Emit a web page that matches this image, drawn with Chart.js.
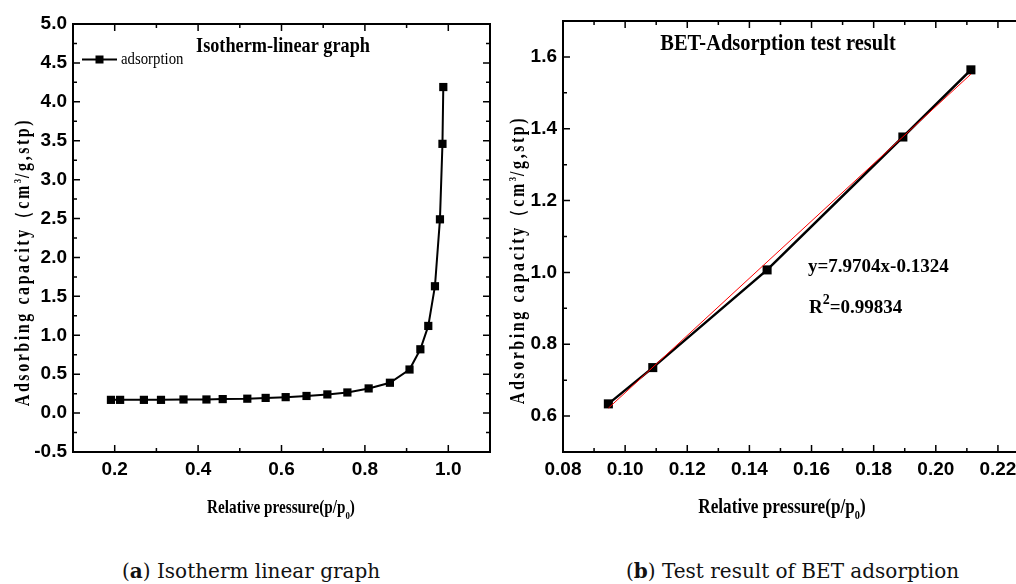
<!DOCTYPE html>
<html>
<head>
<meta charset="utf-8">
<script src="https://cdn.jsdelivr.net/npm/chart.js@4.4.0/dist/chart.umd.min.js"></script>
<style>
    html, body { margin: 0; padding: 0; background: #fff; overflow: hidden; }
    body { width: 1016px; height: 584px; position: relative; }
    #isoChart { position: absolute; left: 0; top: 0; }
    #betChart { position: absolute; left: 500px; top: 0; }
    .caption {
        position: absolute; top: 561px; line-height: 20px;
        font-family: "DejaVu Serif", serif; font-size: 20px; color: #111; white-space: nowrap;
    }
</style>
</head>
<body>
<canvas id="isoChart" width="500" height="540"></canvas>
<canvas id="betChart" width="540" height="540"></canvas>
<div class="caption" style="left:122px">(<b>a</b>) Isotherm linear graph</div>
<div class="caption" style="left:626px">(<b>b</b>) Test result of BET adsorption</div>
<script>
// (a) isotherm
const isoPressure = [0.191, 0.213, 0.270, 0.311, 0.365, 0.420, 0.459, 0.518, 0.562, 0.610, 0.660,
    0.710, 0.758, 0.809, 0.860, 0.907, 0.933, 0.952, 0.968, 0.980, 0.986, 0.988];
const isoCapacity = [0.17, 0.17, 0.17, 0.17, 0.175, 0.175, 0.18, 0.185, 0.195, 0.205, 0.22,
    0.24, 0.265, 0.317, 0.39, 0.56, 0.82, 1.12, 1.63, 2.49, 3.46, 4.19];
const isoXTicks = [0.2, 0.4, 0.6, 0.8, 1.0];
const isoXMinor = [0.1, 0.3, 0.5, 0.7, 0.9, 1.1];
const isoYTicks = [-0.5, 0, 0.5, 1.0, 1.5, 2.0, 2.5, 3.0, 3.5, 4.0, 4.5, 5.0];
const isoYMinor = [-0.25, 0.25, 0.75, 1.25, 1.75, 2.25, 2.75, 3.25, 3.75, 4.25, 4.75];

// (b) BET test points and the fitted line
const betPressure = [0.0946, 0.1089, 0.1457, 0.1894, 0.2113];
const betCapacity = [0.634, 0.735, 1.007, 1.377, 1.564];
const fitPressure = [0.0946, 0.2113];
const fitCapacity = [0.622, 1.552];
const betXTicks = [0.08, 0.10, 0.12, 0.14, 0.16, 0.18, 0.20, 0.22];
const betXMinor = [0.09, 0.11, 0.13, 0.15, 0.17, 0.19, 0.21, 0.23];
const betYTicks = [0.6, 0.8, 1.0, 1.2, 1.4, 1.6];
const betYMinor = [0.5, 0.7, 0.9, 1.1, 1.3, 1.5, 1.7];

const toPoints = (xs, ys) => xs.map((x, i) => ({ x: x, y: ys[i] }));
const tickFont = { family: "'Liberation Sans', Arial", weight: "bold", size: 19 };

function drawText(ctx, str, x, y, font, align, sx) {
    ctx.save();
    ctx.fillStyle = "#000";
    ctx.font = font;
    ctx.textAlign = align || "left";
    ctx.textBaseline = "middle";
    ctx.translate(x, y);
    ctx.scale(sx || 1, 1);
    ctx.fillText(str, 0, 0);
    ctx.restore();
}

// "Relative pressure(p/p0)" with subscript 0
function pressureTitle(ctx, cx, y, size, sx) {
    const main = `bold ${size}px "Liberation Serif"`;
    const sub = `bold ${Math.round(size * 0.6)}px "Liberation Serif"`;
    ctx.save();
    ctx.fillStyle = "#000";
    ctx.textBaseline = "alphabetic";
    ctx.font = main;
    const w1 = ctx.measureText("Relative pressure(p/p").width;
    const w3 = ctx.measureText(")").width;
    ctx.font = sub;
    const w2 = ctx.measureText("0").width;
    ctx.translate(cx - (w1 + w2 + w3) * sx / 2, y);
    ctx.scale(sx, 1);
    ctx.font = main;
    ctx.fillText("Relative pressure(p/p", 0, 0);
    ctx.font = sub;
    ctx.fillText("0", w1, size * 0.3);
    ctx.font = main;
    ctx.fillText(")", w1 + w2, 0);
    ctx.restore();
}

// rotated, letter-spaced "Adsorbing capacity （cm3/g,stp)"
function capacityTitle(ctx, x, cy, size, sx) {
    const main = `bold ${size}px "Liberation Serif"`;
    const sup = `bold ${Math.round(size * 0.55)}px "Liberation Serif"`;
    const parts = [
        { t: "Adsorbing capacity", f: main, ls: 3.2, dy: 0 },
        { t: "（cm", f: main, ls: 3.2, dy: 0 },
        { t: "3", f: sup, ls: 1, dy: -size * 0.3 },
        { t: "/g,stp)", f: main, ls: 3.2, dy: 0 },
    ];
    ctx.save();
    ctx.translate(x, cy);
    ctx.rotate(-Math.PI / 2);
    ctx.scale(sx, 1);
    ctx.fillStyle = "#000";
    ctx.textBaseline = "middle";
    let total = 0;
    parts.forEach((p) => {
        ctx.font = p.f;
        ctx.letterSpacing = p.ls + "px";
        p.w = ctx.measureText(p.t).width;
        total += p.w;
    });
    let px = -total / 2;
    parts.forEach((p) => {
        ctx.font = p.f;
        ctx.letterSpacing = p.ls + "px";
        ctx.fillText(p.t, px, p.dy);
        px += p.w;
    });
    ctx.restore();
}

// box around the plot with inward ticks on all four sides
const framePlugin = {
    id: "frame",
    afterDraw(chart, args, opts) {
        const { ctx, chartArea: a, scales: { x, y } } = chart;
        ctx.save();
        ctx.strokeStyle = "#000";
        ctx.lineWidth = 2;
        ctx.strokeRect(a.left, a.top, a.right - a.left, a.bottom - a.top);
        ctx.lineWidth = 1.5;
        const xTicks = (vals, len) => vals.forEach((v) => {
            const px = x.getPixelForValue(v);
            ctx.beginPath();
            ctx.moveTo(px, a.bottom); ctx.lineTo(px, a.bottom - len);
            ctx.moveTo(px, a.top); ctx.lineTo(px, a.top + len);
            ctx.stroke();
        });
        const yTicks = (vals, len) => vals.forEach((v) => {
            const py = y.getPixelForValue(v);
            ctx.beginPath();
            ctx.moveTo(a.left, py); ctx.lineTo(a.left + len, py);
            ctx.moveTo(a.right, py); ctx.lineTo(a.right - len, py);
            ctx.stroke();
        });
        xTicks(opts.xMajor, 7);
        xTicks(opts.xMinor, 4);
        yTicks(opts.yMajor, 7);
        yTicks(opts.yMinor, 4);
        ctx.restore();
    },
};

function axis(min, max, ticks, digits, fit) {
    return {
        type: "linear",
        min: min,
        max: max,
        grid: { display: false, drawTicks: false },
        border: { display: false },
        afterBuildTicks: (s) => { s.ticks = ticks.map((v) => ({ value: v })); },
        afterFit: fit,
        ticks: {
            font: tickFont,
            color: "#000",
            padding: 6,
            maxRotation: 0,
            autoSkip: false,
            callback: (v) => Number(v).toFixed(digits),
        },
    };
}

// (a) Isotherm-linear graph
new Chart(document.getElementById("isoChart"), {
    type: "scatter",
    data: {
        datasets: [
            {
                label: "adsorption",
                data: toPoints(isoPressure, isoCapacity),
                showLine: true,
                borderColor: "#000",
                borderWidth: 2,
                pointStyle: "rect",
                pointRadius: 5.8,
                pointBackgroundColor: "#000",
                pointBorderWidth: 0,
                tension: 0,
            },
        ],
    },
    options: {
        responsive: false,
        animation: false,
        devicePixelRatio: 1,
        layout: { padding: { left: 0, top: 24, right: 10, bottom: 0 } },
        scales: {
            x: axis(0.1, 1.1, isoXTicks, 1, (s) => { s.height = 88; }),
            y: axis(-0.5, 5.0, isoYTicks, 1, (s) => { s.width = 73; }),
        },
        plugins: {
            legend: { display: false },
            tooltip: { enabled: false },
            frame: { xMajor: isoXTicks, xMinor: isoXMinor, yMajor: isoYTicks, yMinor: isoYMinor },
        },
    },
    plugins: [
        framePlugin,
        {
            id: "isoText",
            afterDraw(chart) {
                const ctx = chart.ctx;
                drawText(ctx, "Isotherm-linear graph", 283, 46, 'bold 22px "Liberation Serif"', "center", 0.83);
                // legend entry
                ctx.save();
                ctx.strokeStyle = "#000";
                ctx.lineWidth = 2;
                ctx.beginPath();
                ctx.moveTo(82, 59.5);
                ctx.lineTo(117, 59.5);
                ctx.stroke();
                ctx.fillStyle = "#000";
                ctx.fillRect(95.5, 55.5, 8, 8);
                ctx.restore();
                drawText(ctx, chart.data.datasets[0].label, 121, 60, '17px "Liberation Serif"', "left", 0.87);
                pressureTitle(ctx, 281, 513, 19, 0.8);
                capacityTitle(ctx, 24, 262, 20, 0.8);
            },
        },
    ],
});

// (b) BET-Adsorption test result
new Chart(document.getElementById("betChart"), {
    type: "scatter",
    data: {
        datasets: [
            {
                label: "fit",
                data: toPoints(fitPressure, fitCapacity),
                showLine: true,
                borderColor: "#ff0000",
                borderWidth: 1,
                pointRadius: 0,
                order: 0,
            },
            {
                label: "BET",
                data: toPoints(betPressure, betCapacity),
                showLine: true,
                borderColor: "#000",
                borderWidth: 2.5,
                pointStyle: "rect",
                pointRadius: 6.4,
                pointBackgroundColor: "#000",
                pointBorderWidth: 0,
                tension: 0,
                order: 1,
            },
        ],
    },
    options: {
        responsive: false,
        animation: false,
        devicePixelRatio: 1,
        layout: { padding: { left: 0, top: 21, right: 11, bottom: 0 } },
        scales: {
            x: axis(0.08, 0.23, betXTicks, 2, (s) => { s.height = 88; }),
            y: axis(0.5, 1.7, betYTicks, 1, (s) => { s.width = 63; }),
        },
        plugins: {
            legend: { display: false },
            tooltip: { enabled: false },
            frame: { xMajor: betXTicks, xMinor: betXMinor, yMajor: betYTicks, yMinor: betYMinor },
        },
    },
    plugins: [
        framePlugin,
        {
            id: "betText",
            afterDraw(chart) {
                const ctx = chart.ctx;
                drawText(ctx, "BET-Adsorption test result", 278, 44, 'bold 23px "Liberation Serif"', "center", 0.89);
                drawText(ctx, "y=7.9704x-0.1324", 308, 267, 'bold 19px "Liberation Serif"', "left", 1);
                // R² line
                ctx.save();
                ctx.fillStyle = "#000";
                ctx.textBaseline = "alphabetic";
                ctx.font = 'bold 19px "Liberation Serif"';
                const wR = ctx.measureText("R").width;
                ctx.fillText("R", 309, 313);
                ctx.font = 'bold 14px "Liberation Serif"';
                const w2 = ctx.measureText("2").width;
                ctx.fillText("2", 309 + wR, 304);
                ctx.font = 'bold 19px "Liberation Serif"';
                ctx.fillText("=0.99834", 309 + wR + w2, 313);
                ctx.restore();
                pressureTitle(ctx, 282, 513, 20, 0.86);
                capacityTitle(ctx, 19, 260, 20, 0.8);
            },
        },
    ],
});
</script>
</body>
</html>
